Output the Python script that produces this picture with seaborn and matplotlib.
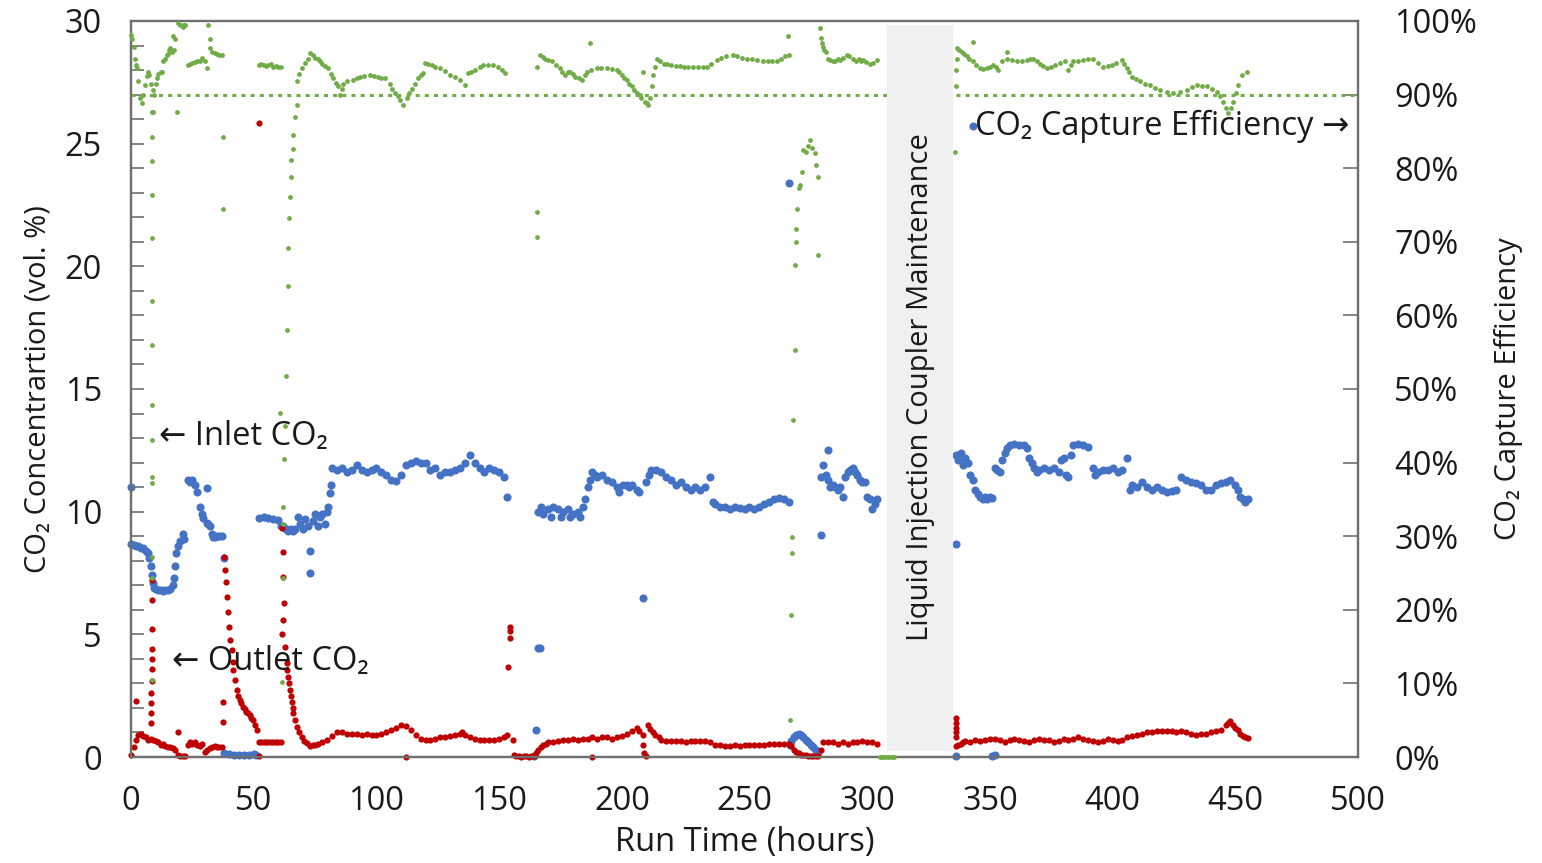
import matplotlib
matplotlib.use('Agg')
import matplotlib.pyplot as plt
from matplotlib.ticker import MultipleLocator, FixedLocator
import seaborn as sns

# inlet CO2 (vol. %) vs run time (h)
inlet_h = [0, 0, 1, 2, 3, 4, 5, 6, 7, 7.5, 8, 8.5, 9, 9.5, 10, 11, 12, 13, 14, 15, 16, 17, 17.5, 18, 18.5, 19, 20, 21, 21.5,
           23, 24, 25, 26, 27, 28, 28.8, 29.5, 30.8, 30.8, 31.5, 32.2, 33, 33.5, 34, 35, 36, 37, 38,
           38, 40, 42, 44, 46, 48, 50, 51,
           52, 54, 56, 58, 60, 61, 62, 63, 64, 65, 66, 67, 68, 69, 70, 71, 72, 73, 73, 74, 75, 76, 77, 78, 79, 80, 80.4, 81, 81.5,
           82, 84, 86, 88, 90, 92, 94, 96, 98, 100, 102, 104, 106, 108, 110, 112, 114, 116, 118, 120, 122, 124, 126, 128,
           130, 132, 134, 136, 138, 140, 142, 144, 146, 148, 150, 152, 153,
           164, 165, 166, 166.5,
           166, 167, 168, 170, 171, 172, 174, 175, 176, 178, 179, 180, 182, 183, 184, 185, 186, 187, 188,
           189, 190, 192, 194, 196, 198, 199, 200.5, 202, 203, 204, 206, 207, 208.7,
           210, 211, 212, 214, 216, 218, 220, 222, 224, 226, 228, 230, 232, 234, 236,
           237, 238, 240, 242, 244, 246, 248, 250, 252, 254, 256, 258, 260, 262, 264, 266, 268, 268,
           268.5, 269, 270, 271, 272, 273, 274, 275, 276, 277, 278, 279, 280,
           281, 281, 282, 283, 284, 284, 285, 286, 287, 288, 289, 290, 291, 292, 293, 294, 295, 296, 297, 298, 299, 300,
           301, 302, 303, 304,
           336, 336, 343, 351, 352,
           336, 337, 338, 339, 340, 341, 342, 343, 344, 345, 346, 347, 348, 349, 350, 351, 352, 353, 354, 355, 356, 357,
           358, 360, 362, 364, 365, 366, 367, 368, 369, 370, 372, 374, 376, 378, 379, 380, 381, 382, 383, 384, 386, 388,
           390, 392, 393, 394, 396, 398, 400, 402, 404, 406, 407, 408, 410, 412, 414, 416, 418, 420, 422, 424, 426, 428,
           430, 432, 434, 436, 438, 440, 442, 444, 446, 448, 450, 451, 452, 453, 454, 455]
inlet_co2 = [8.7, 11.0, 8.65, 8.6, 8.6, 8.5, 8.5, 8.4, 8.3, 8.1, 7.8, 7.4, 7.1, 6.9, 6.85, 6.8, 6.8, 6.75, 6.8, 6.8, 6.85, 7.0, 7.3, 7.8, 8.3, 8.6, 8.8, 9.1, 8.9,
             11.3, 11.2, 11.3, 11.1, 10.8, 10.2, 9.9, 9.75, 10.95, 9.55, 9.5, 9.4, 9.1, 8.98, 8.95, 9.0, 9.0, 9.0, 8.1,
             0.15, 0.12, 0.1, 0.1, 0.1, 0.1, 0.12, 0.1,
             9.75, 9.8, 9.75, 9.7, 9.65, 9.4, 9.4, 9.3, 9.2, 9.3, 9.2, 9.3, 9.8, 9.5, 9.3, 9.7, 9.4, 8.4, 7.5, 9.6, 9.9, 9.4, 9.8, 9.9, 9.5, 10.0, 10.2, 10.75, 11.1,
             11.8, 11.7, 11.8, 11.6, 11.7, 11.9, 11.7, 11.6, 11.7, 11.8, 11.6, 11.5, 11.3, 11.25, 11.5, 11.9, 12.0, 12.05, 12.0, 12.0, 11.7, 11.8, 11.5, 11.6,
             11.6, 11.7, 11.8, 12.0, 12.3, 12.0, 11.8, 11.6, 11.8, 11.7, 11.6, 11.4, 10.6,
             0.05, 1.1, 4.45, 4.45,
             10.0, 10.2, 9.9, 10.1, 9.8, 10.2, 10.1, 9.8, 10.0, 10.1, 9.8, 9.9, 10.0, 9.8, 10.2, 10.5, 11.0, 11.3, 11.6,
             11.5, 11.4, 11.5, 11.3, 11.2, 11.0, 10.8, 11.1, 11.1, 11.0, 11.1, 10.9, 10.8, 6.5,
             11.2, 11.5, 11.7, 11.7, 11.6, 11.4, 11.3, 11.1, 11.2, 11.0, 10.9, 11.0, 10.9, 11.0, 11.4,
             10.4, 10.3, 10.2, 10.2, 10.1, 10.2, 10.15, 10.1, 10.2, 10.1, 10.2, 10.3, 10.4, 10.5, 10.55, 10.5, 10.4, 23.4,
             0.5, 0.65, 0.8, 0.9, 0.92, 0.9, 0.8, 0.7, 0.6, 0.5, 0.4, 0.3, 0.2,
             9.05, 11.4, 11.9, 11.5, 12.5, 11.3, 11.0, 11.1, 11.0, 10.9, 11.0, 10.6, 11.4, 11.6, 11.7, 11.8, 11.6, 11.5, 11.3, 11.2, 11.2, 10.6,
             10.5, 10.1, 10.3, 10.5,
             8.7, 0.05, 25.7, 0.05, 0.1,
             12.3, 12.1, 12.4, 11.9, 12.2, 12.0, 11.5, 11.3, 10.9, 10.7, 10.6, 10.5, 10.6, 10.5, 10.6, 10.55, 11.8, 11.7, 11.6, 12.1, 12.4, 12.6,
             12.7, 12.75, 12.7, 12.7, 12.6, 12.2, 12.0, 11.8, 11.6, 11.7, 11.8, 11.7, 11.8, 11.6, 12.1, 12.2, 11.5, 11.4, 12.3, 12.7, 12.75, 12.7,
             12.65, 11.8, 11.5, 11.6, 11.7, 11.7, 11.8, 11.6, 11.7, 12.2, 10.9, 11.1, 11.0, 11.2, 11.0, 10.9, 11.0, 10.9, 10.8, 10.85, 10.9, 11.4,
             11.3, 11.2, 11.15, 11.1, 10.9, 10.9, 11.1, 11.15, 11.2, 11.3, 11.1, 10.9, 10.6, 10.5, 10.4, 10.5]

# outlet CO2 (vol. %)
outlet_h = [0, 1, 2, 2, 3, 4, 5, 6, 7, 8,
            8.2, 8.25, 8.3, 8.3, 8.35, 8.4, 8.4, 8.45, 8.5, 8.55, 8.6,
            9, 10, 11, 12, 13, 14, 15, 16, 17, 18, 19, 19, 20, 21, 22, 23, 24, 25, 26, 27, 28, 29, 30, 31, 32, 33, 34, 35, 36, 37,
            37.5, 37.5, 38.0, 38.3, 38.7, 39.0, 39.7, 40.1, 40.3, 41.0, 41.4, 41.7, 42.4, 43.1, 43.7, 44.4, 45, 45.8, 46.5, 47,
            47.8, 48.5, 49, 49.8, 50.5, 51.2,
            52, 52, 52, 53, 54, 55, 56, 57, 58, 59, 60, 61,
            61.4, 61.8, 62.1, 62.5, 62, 61.5, 62.9, 63.4, 63.7, 64.1, 64.5, 64.8, 65.2, 65.5, 65.8, 66.1, 66.8, 67.5, 68.5, 69.5,
            70.5, 71.6,
            73, 74, 75, 76, 78, 80, 82, 84, 86, 88, 90, 92, 94, 96, 98, 100, 102, 104, 106, 108, 110, 112, 112, 114, 116, 118,
            120, 122, 124, 126, 128, 130, 132, 134, 135, 136, 138, 140, 142, 144, 146, 148, 150, 152, 153,
            153.6, 154.3, 154.5, 154.6, 155.7,
            156, 157, 158, 159, 160, 161, 162, 163, 164, 165, 166, 167, 168, 169, 170, 172, 174, 176, 178, 180, 182, 184, 186,
            188, 188, 190, 192, 194, 196, 198, 200, 202, 204, 206, 207, 208.7, 208.7, 209, 210, 210.7, 211.5, 212.5, 213.5, 215,
            216, 218, 220, 222, 224, 226, 228, 230, 232, 234, 236, 238, 240, 242, 244, 246, 248, 250, 252, 254, 256, 258, 260,
            262, 264, 266, 268, 269, 270, 271, 272, 273, 274, 275, 276, 277, 278, 279, 280, 281, 282, 284, 286, 288, 290, 292,
            294, 296, 298, 300, 302, 304,
            336, 336, 336, 336, 336, 336.3, 337, 338, 339, 340, 342, 344, 346, 348, 350, 352, 354, 356, 358, 360, 362, 364, 366,
            368, 370, 372, 374, 376, 378, 380, 382, 384, 386, 388, 390, 392, 394, 396, 398, 400, 402, 404, 406, 408, 410, 412,
            414, 416, 418, 420, 422, 424, 426, 428, 430, 432, 434, 436, 438, 440, 442, 444, 446, 447, 448, 449, 450, 451, 452,
            453, 454, 455]
outlet_co2 = [0.1, 0.4, 0.7, 2.3, 0.9, 0.95, 0.85, 0.8, 0.7, 0.75,
              1.4, 1.8, 2.2, 2.6, 3.1, 3.6, 4.0, 4.4, 5.2, 6.4, 7.2,
              0.7, 0.65, 0.6, 0.5, 0.55, 0.45, 0.4, 0.4, 0.35, 0.3, 1.0, 0.1, 0.05, 0.05, 0.05, 0.5, 0.6, 0.55, 0.6, 0.5, 0.45, 0.55,
              0.2, 0.3, 0.35, 0.4, 0.45, 0.4, 0.4, 0.4,
              1.43, 2.24, 8.15, 7.62, 7.13, 6.52, 5.91, 5.30, 4.77, 4.36, 3.87, 3.55, 3.14, 2.73, 2.5, 2.32, 2.2, 2.04, 1.95, 1.85,
              1.79, 1.7, 1.6, 1.51, 1.3, 1.10,
              0.6, 0.05, 25.85, 0.6, 0.6, 0.6, 0.6, 0.6, 0.6, 0.6, 0.6, 0.6,
              9.33, 8.37, 7.35, 6.29, 5.6, 5.0, 4.5, 3.83, 3.55, 3.27, 3.0, 2.73, 2.5, 2.25, 2.0, 1.79, 1.5, 1.24, 1.0, 0.83,
              0.65, 0.56,
              0.45, 0.5, 0.5, 0.55, 0.6, 0.7, 0.85, 1.0, 1.0, 0.95, 0.95, 0.95, 0.9, 0.95, 0.9, 0.9, 0.95, 1.0, 1.1, 1.2, 1.3, 1.25,
              0.0, 1.1, 0.9, 0.75,
              0.7, 0.7, 0.75, 0.8, 0.8, 0.85, 0.9, 0.95, 1.0, 0.9, 0.8, 0.75, 0.7, 0.7, 0.7, 0.7, 0.75, 0.8, 0.9,
              3.67, 4.85, 5.15, 5.3, 0.7,
              0.1, 0.05, 0.05, 0.0, 0.05, 0.05, 0.0, 0.05, 0.05, 0.15, 0.3, 0.4, 0.5, 0.55, 0.6, 0.6, 0.65, 0.7, 0.7, 0.75, 0.7,
              0.75, 0.75,
              0.0, 0.8, 0.75, 0.8, 0.8, 0.75, 0.8, 0.85, 0.95, 1.05, 1.18, 1.05, 0.9, 0.5, 0.15, 0.05, 1.3, 1.15, 1.0, 0.9, 0.8,
              0.7, 0.65, 0.65, 0.65, 0.65, 0.6, 0.65, 0.65, 0.65, 0.65, 0.6, 0.5, 0.5, 0.45, 0.45, 0.5, 0.45, 0.5, 0.5, 0.5, 0.5,
              0.5, 0.55,
              0.55, 0.55, 0.55, 0.55, 0.45, 0.3, 0.2, 0.15, 0.1, 0.08, 0.08, 0.05, 0.05, 0.05, 0.05, 0.05, 0.3, 0.6, 0.6, 0.6, 0.55,
              0.6, 0.55,
              0.6, 0.6, 0.65, 0.6, 0.6, 0.55,
              1.6, 1.4, 1.2, 1.0, 0.8, 0.45, 0.5, 0.55, 0.6, 0.65, 0.6, 0.7, 0.65, 0.7, 0.75, 0.75, 0.7, 0.6, 0.7, 0.75, 0.7, 0.65,
              0.6, 0.7, 0.75, 0.7, 0.7, 0.6, 0.65, 0.75, 0.7, 0.75, 0.8, 0.75, 0.7, 0.65, 0.6, 0.65, 0.75, 0.7, 0.65, 0.7, 0.8,
              0.85, 0.9, 0.95, 1.0, 1.0, 1.05, 1.05, 1.05, 1.05, 1.0, 1.05, 1.0, 0.95, 0.9, 0.95, 0.95, 1.0, 1.05, 1.1, 1.3, 1.4,
              1.45, 1.3, 1.2, 1.1, 0.95, 0.85, 0.8, 0.78]

# CO2 capture efficiency (%)
eff_h = [0, 0.5, 1, 1.6, 2, 2.3, 3, 3.7, 4.4, 5, 5.7, 6.3, 7, 7.5, 8,
         8.5, 8.5, 8.5, 8.5, 8.5, 8.5, 8.5, 8.5, 8.5, 8.5, 8.5, 8.5, 8.5, 8.5,
         9, 9, 9.5, 10, 10.5, 11, 12, 12.5, 13.2, 14, 14.5, 15, 15.5, 16, 16.5, 17.3, 17.2, 18, 18.6, 19.3, 20, 21, 21.3, 22,
         23, 24, 25, 26, 27, 28, 29, 30, 30.8, 31.5, 32, 32.2, 32.9, 34, 35, 36, 37, 37.6, 37.6,
         52, 53, 54, 55, 56, 57, 58, 59, 60, 61,
         61.4, 62, 62, 62, 62.3, 62.8, 60.7, 63.2, 63.6, 64, 64.1, 64.2, 64.8, 65.1, 65.2, 65.8, 66.1, 66.8, 67.5,
         67.5, 68.5, 69.6, 71, 72.2, 73, 74, 75, 76, 77, 78, 79, 80.4, 81.5, 82.4, 83.5, 84.5, 85, 85.8, 86.5, 88, 90.6, 92,
         93.3, 95, 97.4, 99, 100.8, 102, 103.5, 105.5, 106.5, 107.6, 108.6, 109.6, 111, 112.3, 113.3, 114.4, 115.7, 117, 118,
         119, 119.8, 121, 122.5, 124, 126, 128, 130, 132, 134, 136, 137.4, 138.5, 140, 142, 143.6, 145.5, 147.6, 149.7, 151,
         152.4,
         165.4, 165.4, 187,
         165.3, 166.7, 167.7, 168.7, 170, 171.4, 173, 174.8, 175.8, 176.9, 178, 178.9, 180, 181, 182.5, 183.7, 185, 185.7,
         187.5, 189.8, 191.5, 193.8, 196, 197.9, 199, 200, 201, 202, 203, 204, 205, 206, 207.4, 208, 208.7, 209.5, 210.2,
         210.8, 211.5, 212.2, 212.8, 213.5, 214.2, 215.6, 217, 218.3, 220, 222, 223.7, 225.5, 227, 229, 231, 233, 234.6,
         236.5, 238.7, 240.5, 242.5, 245.4, 247, 249, 250.9, 253, 255, 257.7, 259.5, 261, 263.1, 265, 266.5, 268, 267.9,
         268.5, 269, 269.2, 269.2, 269.6, 270.4, 270.6, 271, 271.1, 271.3, 272, 272.6, 273.3, 274, 275, 275.8, 276.7, 277.5,
         278.7, 279.3, 280, 280,
         280.8, 281.2, 281.6, 282, 282.5, 283, 284, 285, 286, 287, 288, 289, 290, 291.6, 292.5, 294.3, 295.5, 296.5, 297.5,
         298.4, 299.5, 301.1, 302.5, 303.9,
         305, 306, 307, 308, 309, 310, 311,
         335.8, 336, 336.3, 336.5, 336.5, 337.5, 338.5, 339.5, 340.5, 341.5, 343, 343.2, 344.5, 346, 347.3, 348.7, 350, 351.4,
         352.4, 353.4, 355, 356.8, 357, 359, 360.9, 363, 365, 366.5, 367.7, 369, 370.4, 371.7, 373.1, 374.8, 376.5, 378.5,
         380.6, 381.9, 383, 384, 386, 388, 390, 392, 394, 396.2, 398, 399.6, 401.5, 403.7, 404.7, 405.7, 406.8, 407.8, 409.5,
         411.2, 413.2, 415.2, 417.2, 419.3, 422, 424.7, 427.5, 430.2, 432.2, 434.3, 436.3, 438.3, 440.3, 442.4, 443.8, 445.1,
         446.2, 447.2, 448.2, 449.2, 450.2, 451.2, 452.6, 454.6]
eff_pct = [98.1, 97.5, 96.5, 94.9, 94.0, 93.6, 91.8, 89.5, 88.9, 90.0, 91.3, 92.5, 93.1, 92.6, 91.5,
           87.6, 84.3, 81.0, 76.4, 70.5, 62.0, 56.0, 47.8, 43.1, 38.0, 37.2, 27.2, 24.3, 10.5,
           90.6, 87.7, 90.0, 91.5, 92.2, 92.8, 93.0, 93.1, 94.5, 94.8, 95.4, 95.5, 96.0, 96.3, 95.8, 96.0, 97.9, 97.6, 87.7, 99.7,
           99.5, 99.5, 99.2, 99.4,
           94.0, 94.2, 94.3, 94.4, 94.5, 94.6, 95.0, 94.5, 93.6, 99.5, 97.6, 96.3, 95.8, 95.6, 95.5, 95.4, 95.4, 84.3, 74.4,
           94.0, 94.2, 94.0, 93.9, 94.0, 94.1, 93.8, 93.9, 93.8, 93.7,
           10.2, 24.3, 31.7, 34.0, 40.5, 45.0, 46.7, 51.8, 58.0, 64.0, 69.1, 73.2, 76.1, 78.8, 81.1, 82.6, 84.5, 87.0, 88.6,
           91.8, 92.8, 93.6, 94.3, 94.9, 95.6, 95.4, 95.0, 94.8, 94.5, 94.2, 93.9, 93.6, 92.8, 92.2, 91.6, 91.1, 90.0, 90.8,
           91.5, 91.8, 92.0, 92.2, 92.4, 92.5, 92.7, 92.5, 92.4, 92.3, 92.2, 91.5, 90.8, 90.2, 89.8, 89.3, 88.6, 89.5, 90.2,
           90.8, 91.5, 92.2, 92.6, 92.9, 94.3, 94.2, 94.0, 93.8, 93.6, 93.2, 92.7, 92.4, 92.0, 91.3, 92.9, 93.1, 93.3, 93.7,
           94.0, 94.0, 94.0, 93.8, 93.4, 92.9,
           74.0, 70.7, 97.0,
           93.8, 95.4, 95.1, 94.9, 94.7, 94.5, 94.0, 93.6, 93.1, 92.7, 93.0, 93.1, 92.8, 92.4, 92.2, 92.0, 92.7, 93.1,
           93.4, 93.6, 93.6, 93.6, 93.5, 93.3, 93.0, 92.7, 92.3, 92.0, 91.5, 91.1, 90.6, 90.2, 90.0, 89.5, 93.1, 89.0, 88.8,
           88.6, 89.5, 91.1, 92.7, 93.8, 94.9, 94.5, 94.2, 94.1, 94.0, 93.9, 93.9, 93.8, 93.8, 93.8, 93.7, 93.7, 93.7,
           94.1, 94.7, 95.0, 95.2, 95.4, 95.2, 95.0, 94.9, 94.8, 94.7, 94.6, 94.6, 94.6, 94.6, 94.9, 95.2, 95.4, 97.9,
           5.0, 19.3, 27.7, 29.9, 45.8, 55.3, 66.8, 70.0, 71.7, 74.5, 77.3, 77.7, 79.5, 82.5, 82.2, 83.0, 83.8, 82.7,
           82.0, 80.5, 78.8, 68.2,
           99.0, 97.7, 97.0, 96.5, 96.0, 95.8, 94.9, 94.7, 94.5, 94.6, 94.8, 94.7, 95.0, 95.4, 95.2, 94.9, 94.6, 94.9, 94.6,
           94.7, 94.4, 94.2, 94.3, 94.7,
           0, 0, 0, 0, 0, 0, 0,
           82.2, 91.1, 93.3, 94.9, 96.3, 96.0, 95.8, 95.5, 95.2, 94.8, 94.5, 97.2, 94.0, 93.6, 93.5, 93.6, 93.8, 94.0,
           93.7, 93.3, 94.5, 95.8, 94.9, 94.7, 94.5, 94.6, 94.7, 94.8, 94.9, 94.6, 94.2, 93.9, 93.6, 93.8, 94.0, 94.3,
           94.5, 93.3, 94.0, 94.5, 94.6, 94.7, 94.8, 94.9, 94.3, 93.8, 93.9, 94.0, 94.3, 94.7, 94.1, 93.6, 93.0, 92.4, 92.1,
           91.8, 91.5, 91.3, 90.9, 90.6, 90.4, 90.2, 90.4, 90.6, 91.0, 91.3, 91.2, 91.1, 90.8, 90.4, 89.8, 89.0,
           88.2, 87.5, 88.2, 89.0, 90.2, 91.3, 92.7, 93.1]

target_pct = 90
maint_start, maint_end = 308, 335
x_ticks = [0, 50, 100, 150, 200, 250, 300, 350, 400, 450, 500]
left_ticks = [0, 5, 10, 15, 20, 25, 30]
right_ticks = [0, 10, 20, 30, 40, 50, 60, 70, 80, 90, 100]

blue = '#4472C4'
red = '#C00000'
green = '#70AD47'
ink = '#1a1a1a'
fs = 23.5     # horizontal text
fs_v = 21     # rotated text

sns.set_style('white')
plt.rcParams['font.family'] = ['Open Sans', 'DejaVu Sans']

fig = plt.figure(figsize=(15.42, 8.63), dpi=100)
ax = fig.add_axes([0.085, 0.1228, 0.7957, 0.8529])
ax2 = ax.twinx()

sns.scatterplot(x=inlet_h, y=inlet_co2, ax=ax, color=blue, s=34, linewidth=0, clip_on=False, zorder=3)
sns.scatterplot(x=outlet_h, y=outlet_co2, ax=ax, color=red, s=20, linewidth=0, clip_on=False, zorder=4)
sns.scatterplot(x=eff_h, y=eff_pct, ax=ax2, color=green, s=12, linewidth=0, clip_on=False, zorder=3)
ax2.axhline(target_pct, color=green, linewidth=2.2, linestyle=(0, (1.3, 1.7)), zorder=2)

ax2.axvspan(maint_start, maint_end, ymin=0.008, ymax=0.995, color='#f0f0f0', zorder=5, linewidth=0)
ax2.text((maint_start + maint_end) / 2, 50.3, 'Liquid Injection Coupler Maintenance', rotation=90,
         ha='center', va='center', fontsize=fs_v, color=ink, zorder=6)

ax.set_xlim(0, 500)
ax.set_ylim(0, 30)
ax2.set_ylim(0, 100)
ax.xaxis.set_major_locator(FixedLocator(x_ticks))
ax.xaxis.set_minor_locator(MultipleLocator(10))
ax.yaxis.set_major_locator(FixedLocator(left_ticks))
ax.yaxis.set_minor_locator(MultipleLocator(1))
ax2.yaxis.set_major_locator(FixedLocator(right_ticks))
ax2.set_yticklabels([f'{t}%' for t in right_ticks])

spine_col = '#6f6f6f'
for a in (ax, ax2):
    for sp in a.spines.values():
        sp.set_visible(True)
        sp.set_color(spine_col)
        sp.set_linewidth(1.6)
ax.spines['top'].set_color('#9a9a9a')

ax.tick_params(axis='x', which='major', direction='inout', length=20, width=1.4, color=spine_col,
               labelsize=fs, pad=10, labelcolor=ink)
ax.tick_params(axis='x', which='minor', direction='in', length=9, width=1.2, color=spine_col)
ax.tick_params(axis='y', which='both', direction='in', length=9, width=1.2, color=spine_col,
               labelsize=fs, pad=21, labelcolor=ink)
ax2.tick_params(axis='y', which='major', direction='in', length=11, width=1.2, color=spine_col,
                labelsize=fs, pad=26, labelcolor=ink)

ax.set_xlabel('Run Time (hours)', fontsize=fs, color=ink, labelpad=6)
ax.set_ylabel('CO\u2082 Concentrartion (vol. %)', fontsize=fs_v, color=ink, labelpad=9)
ax2.set_ylabel('CO\u2082 Capture Efficiency', fontsize=fs_v, color=ink, labelpad=12)

ax.text(11.5, 13.05, '\u2190 Inlet CO\u2082', fontsize=fs, color=ink, va='center', zorder=7)
ax.text(16.5, 3.9, '\u2190 Outlet CO\u2082', fontsize=fs, color=ink, va='center', zorder=7)
ax.text(344, 25.7, 'CO\u2082 Capture Efficiency \u2192', fontsize=fs, color=ink, va='center', zorder=7)

fig.savefig('out.png', dpi=100)
